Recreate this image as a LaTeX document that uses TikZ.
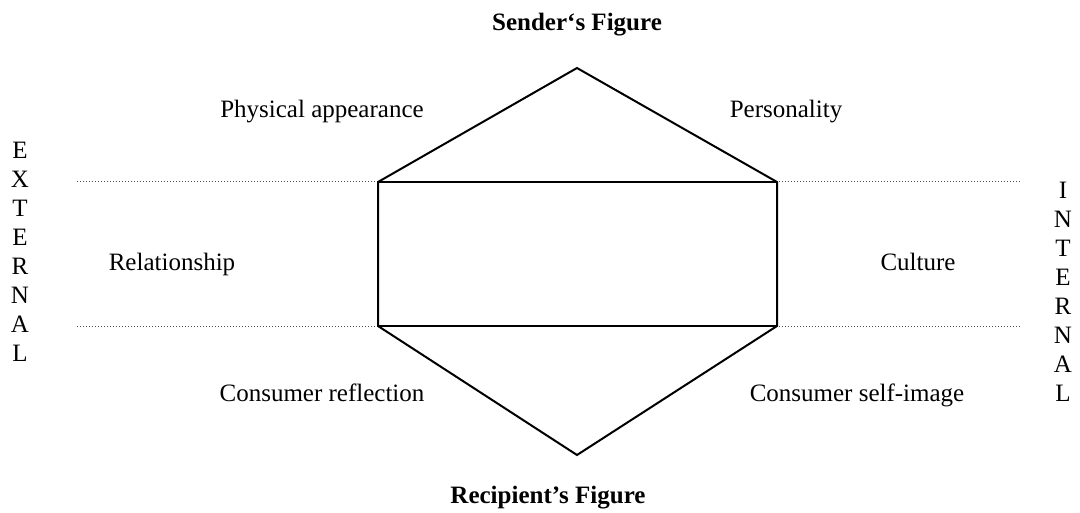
\documentclass[tikz,border=0pt]{standalone}
\usepackage{fontspec}
\setmainfont{Liberation Serif}
\begin{document}
\begin{tikzpicture}[x=0.5pt,y=-0.5pt,
  lbl/.style={font=\fontsize{12.5}{15}\selectfont, inner sep=0pt, anchor=base},
  ttl/.style={font=\fontsize{12.5}{15}\selectfont\bfseries, inner sep=0pt, anchor=base},
  vert/.style={font=\fontsize{12.5}{14.5}\selectfont, inner sep=0pt, align=center},
  hexline/.style={line width=1pt, black, line join=miter},
  sepline/.style={line width=0.5pt, black!70, dash pattern=on 0.5pt off 1pt}]
\useasboundingbox (0,0) rectangle (1080,513);
\coordinate (top) at (577,68);
\coordinate (tl) at (378,182);
\coordinate (tr) at (777,182);
\coordinate (bl) at (378,326);
\coordinate (br) at (777,326);
\coordinate (bot) at (577,455);
\coordinate (d1l) at (77,182);
\coordinate (d1r) at (1020,182);
\coordinate (d2l) at (77,326);
\coordinate (d2r) at (1020,326);
\draw[sepline] (d1l) -- (d1r);
\draw[sepline] (d2l) -- (d2r);
\draw[hexline] (top) -- (tl) -- (bl) -- (bot) -- (br) -- (tr) -- cycle;
\draw[hexline] (tl) -- (tr);
\draw[hexline] (bl) -- (br);
\node[ttl] (sender) at (577,31) {Sender‘s Figure};
\node[ttl] (recip) at (548,503) {Recipient’s Figure};
\node[lbl] (phys) at (322,118) {Physical appearance};
\node[lbl] (pers) at (786,118) {Personality};
\node[lbl] (rel) at (172,270) {Relationship};
\node[lbl] (cult) at (918,270) {Culture};
\node[lbl] (refl) at (322,401) {Consumer reflection};
\node[lbl] (self) at (857,401) {Consumer self-image};
\node[vert] (ext) at (20,252) {E\\X\\T\\E\\R\\N\\A\\L};
\node[vert] (int) at (1063,292) {I\\N\\T\\E\\R\\N\\A\\L};
\end{tikzpicture}
\end{document}
